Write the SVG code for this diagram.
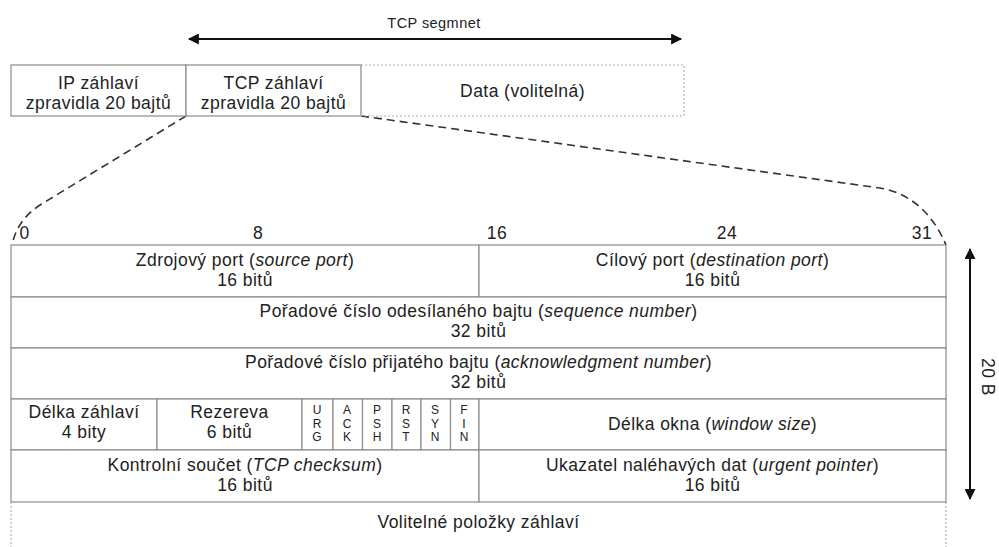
<svg xmlns="http://www.w3.org/2000/svg" width="999" height="547" viewBox="0 0 999 547">
<style>
text{font-family:"Liberation Sans",Arial,sans-serif;fill:#222;font-size:17.5px;letter-spacing:0.45px;text-anchor:middle}
.c{fill:#fff;stroke:#8c8c8c;stroke-width:1.2}
.d{fill:none;stroke:#b0b0b0;stroke-width:1.2;stroke-dasharray:2 2}
.f{font-size:12px;letter-spacing:0}
.s{font-size:14.5px}
.i{font-style:italic}
.dash{fill:none;stroke:#333;stroke-width:1.6;stroke-dasharray:8 5}
.arr{fill:none;stroke:#111;stroke-width:2}
</style>
<defs>
<marker id="ah" viewBox="0 0 10 10" refX="9" refY="5" markerWidth="6" markerHeight="5.5" orient="auto-start-reverse" markerUnits="strokeWidth">
<path d="M0,0 L10,5 L0,10 Z" fill="#111"/>
</marker>
</defs>
<rect width="999" height="547" fill="#fff"/>
<g id="connectors">
<path class="arr" d="M189,39 L681,39" marker-start="url(#ah)" marker-end="url(#ah)"/>
<path class="arr" d="M970,249 L970,499" marker-start="url(#ah)" marker-end="url(#ah)"/>
<path class="dash" d="M186,116 L40,205 Q17,220 12,245"/>
<path class="dash" d="M361,116 L880,188 Q925,196 946,245"/>
</g>
<g id="label-segment"><text class="s" x="434" y="28">TCP segmnet</text></g>
<g id="label-20B"><text transform="translate(982,377) rotate(90)">20 B</text></g>
<g id="ip"><rect class="c" x="11" y="65" width="175" height="51"/><text x="98.5" y="89">IP záhlaví</text><text x="98.5" y="108.5">zpravidla 20 bajtů</text></g>
<g id="tcp"><rect class="c" x="186" y="65" width="175" height="51"/><text x="273.5" y="89">TCP záhlaví</text><text x="273.5" y="108.5">zpravidla 20 bajtů</text></g>
<g id="data"><rect class="d" x="361" y="65" width="323" height="51"/><text x="522.5" y="97">Data (volitelná)</text></g>
<g id="bits"><text x="24.5" y="239">0</text><text x="258" y="239">8</text><text x="497" y="239">16</text><text x="727" y="239">24</text><text x="922" y="239">31</text></g>
<g id="srcport"><rect class="c" x="11" y="245" width="468" height="52"/><text x="245" y="266">Zdrojový port (<tspan class="i">source port</tspan>)</text><text x="245" y="285.5">16 bitů</text></g>
<g id="dstport"><rect class="c" x="479" y="245" width="467" height="52"/><text x="712.5" y="266">Cílový port (<tspan class="i">destination port</tspan>)</text><text x="712.5" y="285.5">16 bitů</text></g>
<g id="seq"><rect class="c" x="11" y="297" width="935" height="51"/><text x="478.5" y="317">Pořadové číslo odesílaného bajtu (<tspan class="i">sequence number</tspan>)</text><text x="478.5" y="336.5">32 bitů</text></g>
<g id="ack"><rect class="c" x="11" y="348" width="935" height="51"/><text x="478.5" y="368">Pořadové číslo přijatého bajtu (<tspan class="i">acknowledgment number</tspan>)</text><text x="478.5" y="387.5">32 bitů</text></g>
<g id="hlen"><rect class="c" x="11" y="399" width="146" height="51"/><text x="84" y="418">Délka záhlaví</text><text x="84" y="437.5">4 bity</text></g>
<g id="rsv"><rect class="c" x="157" y="399" width="145" height="51"/><text x="229.5" y="418">Rezereva</text><text x="229.5" y="437.5">6 bitů</text></g>
<g id="urgf"><rect class="c" x="302" y="399" width="31" height="51"/><text class="f" x="317" y="414">U</text><text class="f" x="317" y="427.5">R</text><text class="f" x="317" y="441">G</text></g>
<g id="ackf"><rect class="c" x="333" y="399" width="29.5" height="51"/><text class="f" x="347" y="414">A</text><text class="f" x="347" y="427.5">C</text><text class="f" x="347" y="441">K</text></g>
<g id="pshf"><rect class="c" x="362.5" y="399" width="29.5" height="51"/><text class="f" x="377" y="414">P</text><text class="f" x="377" y="427.5">S</text><text class="f" x="377" y="441">H</text></g>
<g id="rstf"><rect class="c" x="392" y="399" width="29" height="51"/><text class="f" x="406" y="414">R</text><text class="f" x="406" y="427.5">S</text><text class="f" x="406" y="441">T</text></g>
<g id="synf"><rect class="c" x="421" y="399" width="29.5" height="51"/><text class="f" x="435" y="414">S</text><text class="f" x="435" y="427.5">Y</text><text class="f" x="435" y="441">N</text></g>
<g id="finf"><rect class="c" x="450.5" y="399" width="28.5" height="51"/><text class="f" x="464" y="414">F</text><text class="f" x="464" y="427.5">I</text><text class="f" x="464" y="441">N</text></g>
<g id="win"><rect class="c" x="479" y="399" width="467" height="51"/><text x="712.5" y="430">Délka okna (<tspan class="i">window size</tspan>)</text></g>
<g id="chk"><rect class="c" x="11" y="450" width="468" height="52"/><text x="245" y="471">Kontrolní součet (<tspan class="i">TCP checksum</tspan>)</text><text x="245" y="490.5">16 bitů</text></g>
<g id="urg"><rect class="c" x="479" y="450" width="467" height="52"/><text x="712.5" y="471">Ukazatel naléhavých dat (<tspan class="i">urgent pointer</tspan>)</text><text x="712.5" y="490.5">16 bitů</text></g>
<g id="opt"><path class="d" d="M11,502 L11,547 M946,502 L946,547"/><text x="478.5" y="528">Volitelné položky záhlaví</text></g>
</svg>
